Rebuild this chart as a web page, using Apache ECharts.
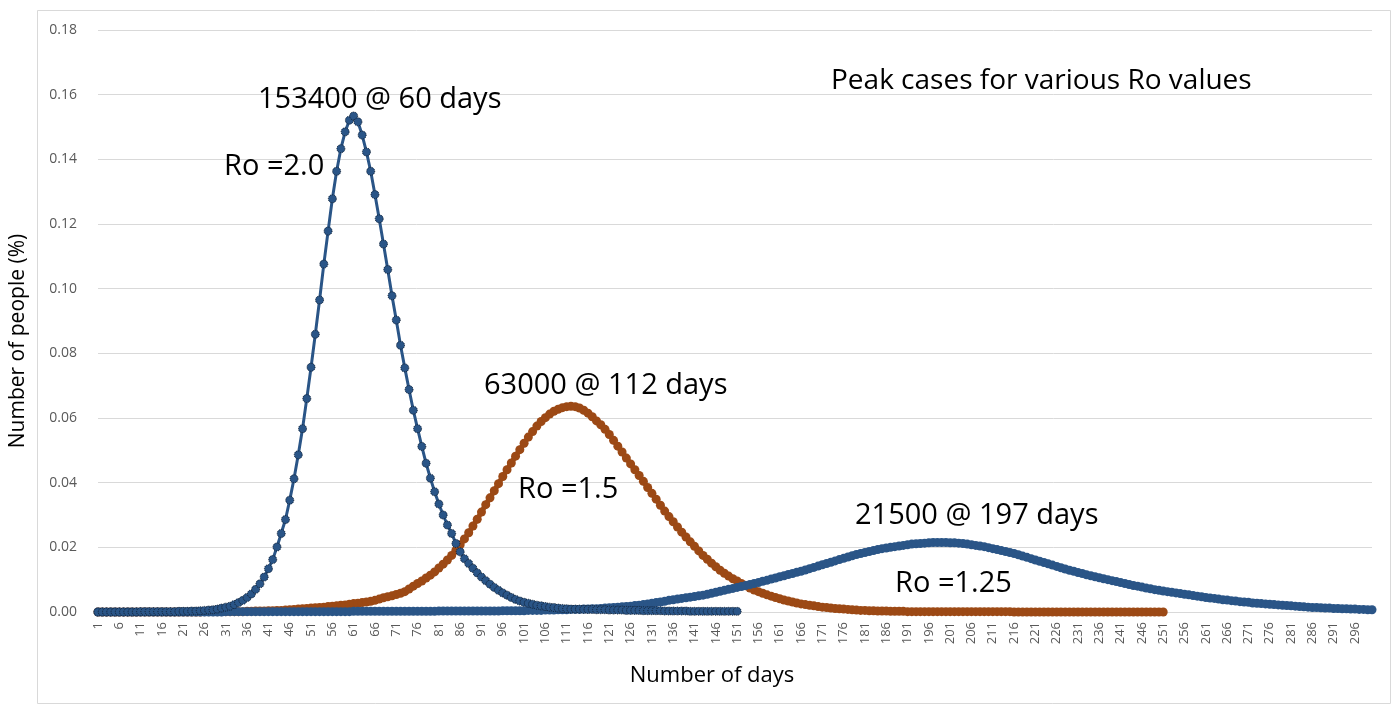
<!DOCTYPE html>
<html>
<head>
<meta charset="utf-8">
<script src="https://cdn.jsdelivr.net/npm/echarts@6/dist/echarts.min.js"></script>
<style>
  html, body { margin: 0; padding: 0; background: #fff; }
  #chart { width: 1400px; height: 718px; }
</style>
</head>
<body>
<div id="chart"></div>
<script>
// days 1..300 on the x axis
const days = Array.from({ length: 300 }, (_, i) => String(i + 1))

const yTicks = [0, 0.02, 0.04, 0.06, 0.08, 0.10, 0.12, 0.14, 0.16, 0.18]

// Ro = 2.0, days 1..151
const ro20 = [
  0, 0, 0, 0, 0, 0, 0, 0, 0, 0,
  0.0001, 0.0001, 0.0001, 0.0001, 0.0001, 0.0001, 0.0001, 0.0001, 0.0001, 0.0002,
  0.0002, 0.0002, 0.0003, 0.0003, 0.0004, 0.0005, 0.0006, 0.0007, 0.0009, 0.0012,
  0.0015, 0.0018, 0.0023, 0.0029, 0.0036, 0.0045, 0.0056, 0.0070, 0.0087, 0.0108,
  0.0134, 0.0162, 0.0201, 0.0243, 0.0286, 0.0346, 0.0412, 0.0486, 0.0567, 0.0660,
  0.0757, 0.0859, 0.0965, 0.1076, 0.1178, 0.1278, 0.1363, 0.1433, 0.1485, 0.1521,
  0.1534, 0.1516, 0.1475, 0.1423, 0.1363, 0.1291, 0.1216, 0.1138, 0.1059, 0.0978,
  0.0903, 0.0825, 0.0755, 0.0688, 0.0624, 0.0567, 0.0512, 0.0460, 0.0414, 0.0372,
  0.0334, 0.0300, 0.0269, 0.0243, 0.0212, 0.0186, 0.0165, 0.0150, 0.0135, 0.0121,
  0.0108, 0.0097, 0.0086, 0.0076, 0.0067, 0.0059, 0.0052, 0.0045, 0.0039, 0.0034,
  0.0030, 0.0027, 0.0024, 0.0021, 0.0019, 0.0017, 0.0015, 0.0014, 0.0012, 0.0011,
  0.0010, 0.0009, 0.0009, 0.0009, 0.0008, 0.0008, 0.0008, 0.0007, 0.0007, 0.0007,
  0.0006, 0.0006, 0.0006, 0.0006, 0.0005, 0.0005, 0.0005, 0.0005, 0.0004, 0.0004,
  0.0004, 0.0004, 0.0004, 0.0003, 0.0003, 0.0003, 0.0003, 0.0003, 0.0003, 0.0002,
  0.0002, 0.0002, 0.0002, 0.0002, 0.0002, 0.0002, 0.0002, 0.0002, 0.0002, 0.0002,
  0.0002
]

// Ro = 1.5, days 1..251
const ro15 = [
  0, 0, 0, 0, 0, 0, 0, 0, 0, 0,
  0, 0, 0, 0, 0, 0, 0, 0, 0, 0,
  0, 0, 0, 0, 0, 0.0001, 0.0001, 0.0001, 0.0001, 0.0001,
  0.0001, 0.0001, 0.0001, 0.0001, 0.0001, 0.0002, 0.0002, 0.0003, 0.0003, 0.0003,
  0.0004, 0.0004, 0.0005, 0.0005, 0.0006, 0.0007, 0.0008, 0.0009, 0.0010, 0.0011,
  0.0012, 0.0013, 0.0014, 0.0015, 0.0017, 0.0018, 0.0019, 0.0021, 0.0022, 0.0024,
  0.0026, 0.0027, 0.0029, 0.0031, 0.0033, 0.0036, 0.0040, 0.0044, 0.0047, 0.0050,
  0.0054, 0.0058, 0.0063, 0.0071, 0.0080, 0.0088, 0.0096, 0.0105, 0.0114, 0.0124,
  0.0136, 0.0148, 0.0161, 0.0175, 0.0191, 0.0208, 0.0226, 0.0245, 0.0266, 0.0287,
  0.0309, 0.0332, 0.0353, 0.0375, 0.0397, 0.0419, 0.0440, 0.0461, 0.0482, 0.0502,
  0.0522, 0.0541, 0.0558, 0.0575, 0.0589, 0.0601, 0.0612, 0.0621, 0.0627, 0.0632,
  0.0635, 0.0636, 0.0635, 0.0631, 0.0624, 0.0615, 0.0604, 0.0591, 0.0579, 0.0565,
  0.0549, 0.0531, 0.0513, 0.0495, 0.0476, 0.0458, 0.0440, 0.0422, 0.0404, 0.0385,
  0.0367, 0.0349, 0.0330, 0.0312, 0.0295, 0.0279, 0.0263, 0.0247, 0.0232, 0.0217,
  0.0203, 0.0189, 0.0175, 0.0163, 0.0151, 0.0140, 0.0129, 0.0120, 0.0111, 0.0103,
  0.0096, 0.0088, 0.0081, 0.0074, 0.0068, 0.0063, 0.0058, 0.0053, 0.0049, 0.0045,
  0.0041, 0.0037, 0.0034, 0.0031, 0.0028, 0.0025, 0.0023, 0.0021, 0.0019, 0.0017,
  0.0015, 0.0014, 0.0012, 0.0011, 0.0010, 0.0009, 0.0008, 0.0007, 0.0006, 0.0005,
  0.0005, 0.0004, 0.0004, 0.0003, 0.0003, 0.0003, 0.0002, 0.0002, 0.0002, 0.0002,
  0.0001, 0.0001, 0.0001, 0.0001, 0.0001, 0.0001, 0.0001, 0.0001, 0.0001, 0.0001,
  0.0001, 0.0001, 0.0001, 0.0001, 0.0001, 0.0001, 0.0001, 0.0001, 0.0001, 0.0001,
  0.0001, 0.0001, 0.0001, 0.0001, 0.0001, 0, 0, 0, 0, 0,
  0, 0, 0, 0, 0, 0, 0, 0, 0, 0,
  0, 0, 0, 0, 0, 0, 0, 0, 0, 0,
  0, 0, 0, 0, 0, 0, 0, 0, 0, 0,
  0
]

// Ro = 1.25, days 1..300
const ro125 = [
  0, 0, 0, 0, 0, 0, 0, 0, 0, 0,
  0, 0, 0, 0, 0, 0, 0, 0, 0, 0,
  0, 0, 0, 0, 0, 0, 0, 0, 0, 0,
  0.0001, 0.0001, 0.0001, 0.0001, 0.0001, 0.0001, 0.0001, 0.0001, 0.0001, 0.0001,
  0.0001, 0.0001, 0.0001, 0.0001, 0.0001, 0.0001, 0.0001, 0.0001, 0.0001, 0.0001,
  0.0001, 0.0001, 0.0001, 0.0001, 0.0001, 0.0001, 0.0001, 0.0001, 0.0001, 0.0001,
  0.0002, 0.0002, 0.0002, 0.0002, 0.0002, 0.0002, 0.0002, 0.0002, 0.0002, 0.0002,
  0.0002, 0.0002, 0.0002, 0.0002, 0.0002, 0.0002, 0.0002, 0.0002, 0.0002, 0.0002,
  0.0003, 0.0003, 0.0003, 0.0003, 0.0003, 0.0003, 0.0003, 0.0003, 0.0003, 0.0003,
  0.0003, 0.0003, 0.0003, 0.0003, 0.0003, 0.0004, 0.0004, 0.0004, 0.0004, 0.0004,
  0.0004, 0.0005, 0.0005, 0.0005, 0.0005, 0.0006, 0.0006, 0.0006, 0.0007, 0.0007,
  0.0007, 0.0008, 0.0008, 0.0008, 0.0009, 0.0009, 0.0010, 0.0010, 0.0011, 0.0012,
  0.0013, 0.0014, 0.0015, 0.0016, 0.0017, 0.0018, 0.0020, 0.0021, 0.0023, 0.0025,
  0.0027, 0.0029, 0.0031, 0.0033, 0.0036, 0.0038, 0.0040, 0.0042, 0.0044, 0.0046,
  0.0048, 0.0050, 0.0052, 0.0055, 0.0058, 0.0061, 0.0064, 0.0067, 0.0070, 0.0073,
  0.0076, 0.0079, 0.0082, 0.0085, 0.0088, 0.0091, 0.0095, 0.0098, 0.0102, 0.0105,
  0.0109, 0.0112, 0.0116, 0.0119, 0.0123, 0.0126, 0.0130, 0.0134, 0.0138, 0.0142,
  0.0146, 0.0150, 0.0154, 0.0158, 0.0162, 0.0166, 0.0170, 0.0174, 0.0178, 0.0181,
  0.0184, 0.0187, 0.0190, 0.0193, 0.0196, 0.0198, 0.0200, 0.0202, 0.0204, 0.0206,
  0.0208, 0.0210, 0.0211, 0.0212, 0.0213, 0.0214, 0.0215, 0.0215, 0.0215, 0.0215,
  0.0214, 0.0214, 0.0213, 0.0212, 0.0210, 0.0208, 0.0206, 0.0204, 0.0202, 0.0199,
  0.0196, 0.0193, 0.0190, 0.0187, 0.0184, 0.0181, 0.0177, 0.0173, 0.0169, 0.0165,
  0.0161, 0.0157, 0.0153, 0.0149, 0.0145, 0.0141, 0.0137, 0.0133, 0.0129, 0.0126,
  0.0122, 0.0119, 0.0115, 0.0112, 0.0109, 0.0106, 0.0103, 0.0100, 0.0097, 0.0094,
  0.0091, 0.0088, 0.0085, 0.0082, 0.0080, 0.0077, 0.0074, 0.0072, 0.0069, 0.0067,
  0.0065, 0.0063, 0.0061, 0.0059, 0.0057, 0.0055, 0.0053, 0.0051, 0.0049, 0.0047,
  0.0045, 0.0043, 0.0042, 0.0040, 0.0038, 0.0037, 0.0035, 0.0034, 0.0032, 0.0031,
  0.0030, 0.0028, 0.0027, 0.0026, 0.0025, 0.0024, 0.0023, 0.0022, 0.0021, 0.0020,
  0.0019, 0.0018, 0.0017, 0.0016, 0.0015, 0.0014, 0.0014, 0.0013, 0.0012, 0.0012,
  0.0011, 0.0011, 0.0010, 0.0010, 0.0009, 0.0009, 0.0008, 0.0008, 0.0007, 0.0007
]

const notes = [
  { text: '153400 @ 60 days', x: 258, y: 98, size: 29 },
  { text: 'Ro =2.0', x: 224, y: 165, size: 29 },
  { text: '63000 @ 112 days', x: 484, y: 384, size: 29 },
  { text: 'Ro =1.5', x: 518, y: 488, size: 29 },
  { text: '21500 @ 197 days', x: 855, y: 514, size: 29 },
  { text: 'Ro =1.25', x: 895, y: 582, size: 29 },
  { text: 'Peak cases for various Ro values', x: 831, y: 79, size: 28 }
]

const BLUE = '#2a5587'
const ORANGE = '#9c4915'
const FONT = '"Open Sans", "Noto Sans", sans-serif'

const chart = echarts.init(document.getElementById('chart'))

chart.setOption({
  animation: false,
  backgroundColor: '#fff',
  grid: { left: 93, right: 28, top: 30, bottom: 106 },
  xAxis: {
    type: 'category',
    data: days,
    boundaryGap: false,
    name: 'Number of days',
    nameLocation: 'middle',
    nameGap: 53,
    nameTextStyle: { fontFamily: FONT, fontSize: 22, color: '#000', padding: [0, 46, 0, 0] },
    axisLine: { lineStyle: { color: '#d9d9d9' } },
    axisTick: { show: false },
    axisLabel: {
      interval: 4,
      rotate: 90,
      margin: 10,
      fontFamily: FONT,
      fontSize: 13,
      color: '#595959'
    }
  },
  yAxis: {
    type: 'value',
    min: 0,
    max: yTicks[yTicks.length - 1],
    interval: 0.02,
    name: 'Number of people (%)',
    nameLocation: 'middle',
    nameGap: 69,
    nameTextStyle: { fontFamily: FONT, fontSize: 21, color: '#000', padding: [0, 40, 0, 0] },
    axisLine: { show: false },
    axisTick: { show: false },
    splitLine: { lineStyle: { color: '#d9d9d9' } },
    axisLabel: {
      margin: 21,
      fontFamily: FONT,
      fontSize: 14,
      color: '#595959',
      formatter: v => v.toFixed(2)
    }
  },
  series: [
    {
      name: 'Ro =1.5',
      type: 'line',
      data: ro15,
      symbol: 'circle',
      symbolSize: 9,
      showAllSymbol: true,
      lineStyle: { color: ORANGE, width: 5 },
      itemStyle: { color: ORANGE }
    },
    {
      name: 'Ro =1.25',
      type: 'line',
      data: ro125,
      symbol: 'circle',
      symbolSize: 9,
      showAllSymbol: true,
      lineStyle: { color: BLUE, width: 5 },
      itemStyle: { color: BLUE }
    },
    {
      name: 'Ro =2.0',
      type: 'line',
      data: ro20,
      symbol: 'circle',
      symbolSize: 8,
      showAllSymbol: true,
      lineStyle: { color: BLUE, width: 3 },
      itemStyle: { color: BLUE, borderColor: '#0e1c2e', borderWidth: 1, borderType: 'dotted' }
    }
  ],
  graphic: [
    {
      type: 'rect',
      shape: { x: 37.5, y: 10.5, width: 1353, height: 693 },
      style: { fill: 'none', stroke: '#d9d9d9', lineWidth: 1 },
      silent: true,
      z: -1
    },
    ...notes.map(n => ({
      type: 'text',
      left: n.x,
      top: n.y - n.size * 0.44,
      style: { text: n.text, font: `${n.size}px ${FONT}`, fill: '#000' },
      z: 100
    }))
  ]
})
</script>
</body>
</html>
